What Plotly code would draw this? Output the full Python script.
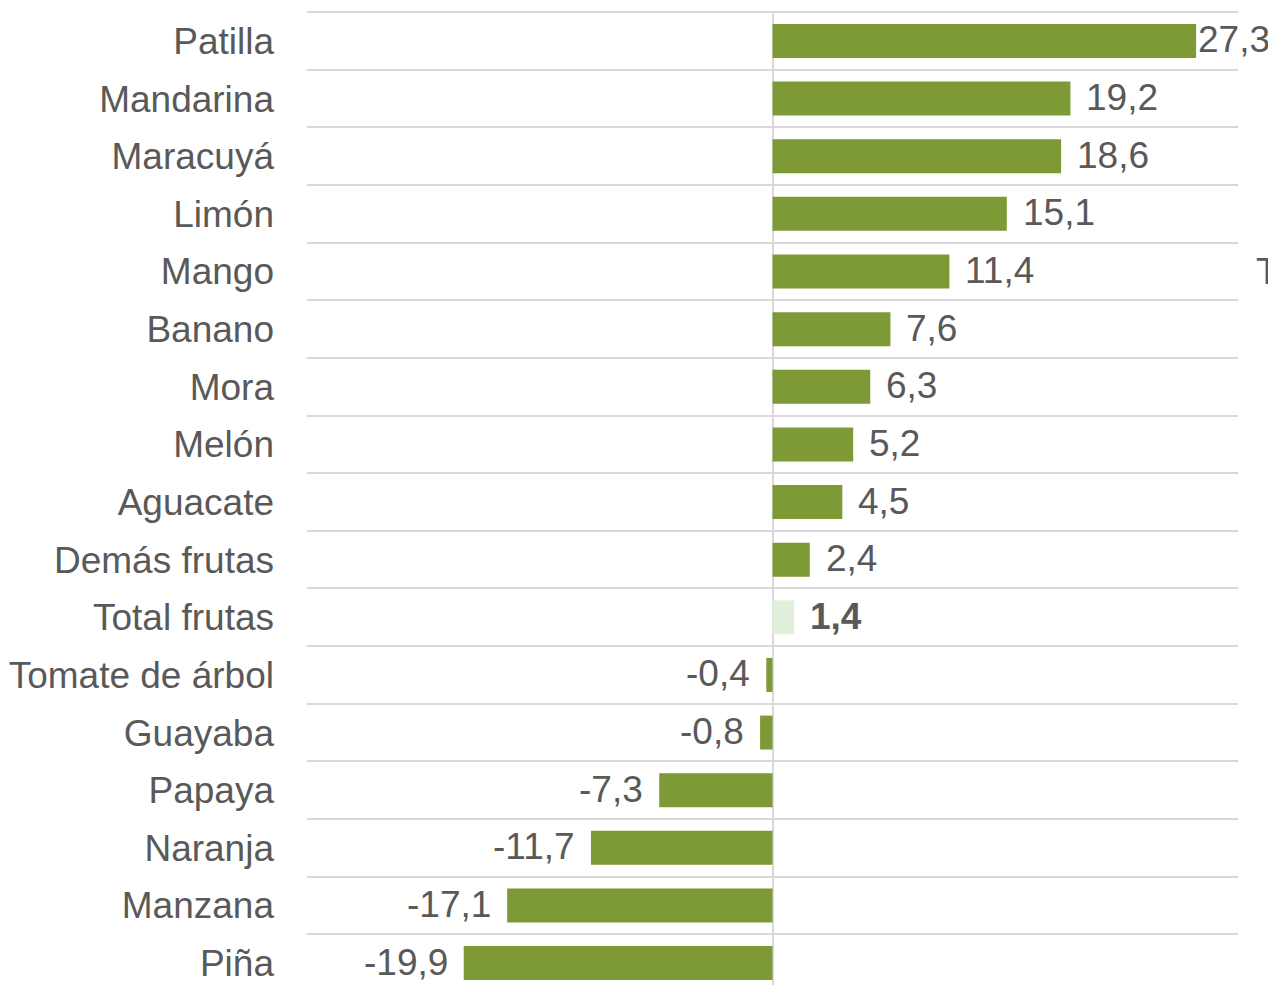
import plotly.graph_objects as go

# categories top to bottom, variation (%)
frutas = ['Patilla', 'Mandarina', 'Maracuyá', 'Limón', 'Mango', 'Banano', 'Mora',
          'Melón', 'Aguacate', 'Demás frutas', 'Total frutas', 'Tomate de árbol',
          'Guayaba', 'Papaya', 'Naranja', 'Manzana', 'Piña']
variacion = [27.3, 19.2, 18.6, 15.1, 11.4, 7.6, 6.3, 5.2, 4.5, 2.4, 1.4, -0.4,
             -0.8, -7.3, -11.7, -17.1, -19.9]
total_label = 'Total frutas'

verde = '#7D9A37'
verde_claro = '#E2EFDA'
gris_txt = '#595959'
gris_lin = '#D9D9D9'
fuente = 'Liberation Sans, Arial, sans-serif'
tam = 37

n = len(frutas)
pos = [n - 1 - i for i in range(n)]  # first category on top
colores = [verde_claro if f == total_label else verde for f in frutas]

fig = go.Figure()
fig.add_trace(go.Bar(
    x=variacion, y=pos, orientation='h',
    marker=dict(color=colores, line=dict(width=0)),
    width=0.59, hoverinfo='skip',
))

# value labels, comma decimal
vmax = max(variacion)
for v, p, f in zip(variacion, pos, frutas):
    txt = f'{v:.1f}'.replace('.', ',')
    if f == total_label:
        txt = '<b>' + txt + '</b>'
    if v >= 0:
        shift = 0 if v == vmax else 14
        anchor = 'left'
    else:
        shift = -14
        anchor = 'right'
    fig.add_annotation(x=v, y=p, text=txt, showarrow=False, xanchor=anchor,
                       yanchor='middle', xshift=shift, yshift=1,
                       font=dict(size=tam, color=gris_txt, family=fuente))

# cut-off text at the right edge
fig.add_annotation(x=1.0, xref='paper', xshift=16, y=pos[4], text='T',
                   showarrow=False, xanchor='left', yanchor='middle',
                   font=dict(size=tam, color=gris_txt, family=fuente))

# page body adds 8px offset, so figure is 8px smaller
fig.update_layout(
    width=1268, height=977,
    margin=dict(l=299, r=38, t=3, b=0),
    paper_bgcolor='white', plot_bgcolor='white',
    showlegend=False,
    font=dict(family=fuente, color=gris_txt),
    xaxis=dict(range=[-30, 30], showgrid=False, showticklabels=False,
               zeroline=True, zerolinecolor=gris_lin, zerolinewidth=2,
               ticks=''),
    yaxis=dict(range=[-0.38, n - 0.5 + 0.02], tickmode='array', tickvals=pos,
               ticktext=frutas, showgrid=False, zeroline=False,
               ticks='', ticklabelstandoff=32, automargin=False,
               tickfont=dict(size=tam, color=gris_txt, family=fuente),
               minor=dict(tickmode='array',
                          tickvals=[k + 0.5 for k in range(n)],
                          showgrid=True, gridcolor=gris_lin, gridwidth=2)),
)

fig.write_html('out.html')
